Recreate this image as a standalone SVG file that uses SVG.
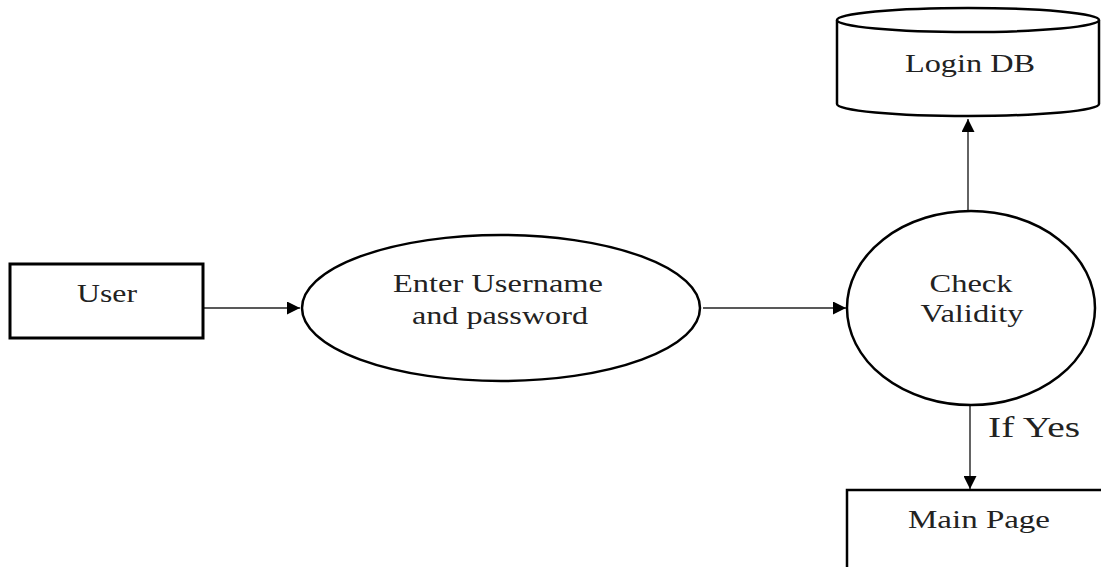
<svg xmlns="http://www.w3.org/2000/svg" width="1101" height="567" viewBox="0 0 1101 567">
<style>
.shape{fill:#fff;stroke:#000;stroke-width:2.5}
.conn{stroke:#222;stroke-width:1.4;fill:none}
.t{font-family:"Liberation Serif","Times New Roman",serif;font-size:26px;fill:#222;text-anchor:middle}
</style>
<defs>
<marker id="arr" viewBox="0 0 10 10" refX="10" refY="5" markerWidth="13" markerHeight="13" markerUnits="userSpaceOnUse" orient="auto">
<path d="M0,0 L10,5 L0,10 z" fill="#000"/>
</marker>
</defs>
<rect width="1101" height="567" fill="#fff"/>
<g id="connectors">
<line class="conn" x1="203" y1="308" x2="300" y2="308" marker-end="url(#arr)"/>
<line class="conn" x1="703" y1="308" x2="846" y2="308" marker-end="url(#arr)"/>
<line class="conn" x1="968" y1="211" x2="968" y2="119" marker-end="url(#arr)"/>
<line class="conn" x1="970" y1="406" x2="970" y2="489" marker-end="url(#arr)"/>
<text class="t" x="1034" y="437" style="font-size:29px" textLength="92" lengthAdjust="spacingAndGlyphs">If Yes</text>
</g>
<g id="login-db">
<path class="shape" d="M837,20 L837,104 A131,12 0 0 0 1099,104 L1099,20"/>
<ellipse class="shape" cx="968" cy="20" rx="131" ry="12"/>
<text class="t" x="970" y="72" textLength="130" lengthAdjust="spacingAndGlyphs">Login DB</text>
</g>
<g id="user">
<rect class="shape" x="10" y="264" width="193" height="74" style="stroke-width:3"/>
<text class="t" x="107" y="302" textLength="60" lengthAdjust="spacingAndGlyphs">User</text>
</g>
<g id="enter">
<ellipse class="shape" cx="501" cy="308" rx="199" ry="73"/>
<text class="t" x="498" y="292" textLength="210" lengthAdjust="spacingAndGlyphs">Enter Username</text>
<text class="t" x="500" y="324" textLength="176" lengthAdjust="spacingAndGlyphs">and password</text>
</g>
<g id="check">
<ellipse class="shape" cx="971" cy="308" rx="124" ry="97"/>
<text class="t" x="971" y="292" textLength="83" lengthAdjust="spacingAndGlyphs">Check</text>
<text class="t" x="972" y="322" textLength="103" lengthAdjust="spacingAndGlyphs">Validity</text>
</g>
<g id="main-page">
<rect class="shape" x="847" y="490" width="270" height="100"/>
<text class="t" x="979" y="528" textLength="142" lengthAdjust="spacingAndGlyphs">Main Page</text>
</g>
</svg>
